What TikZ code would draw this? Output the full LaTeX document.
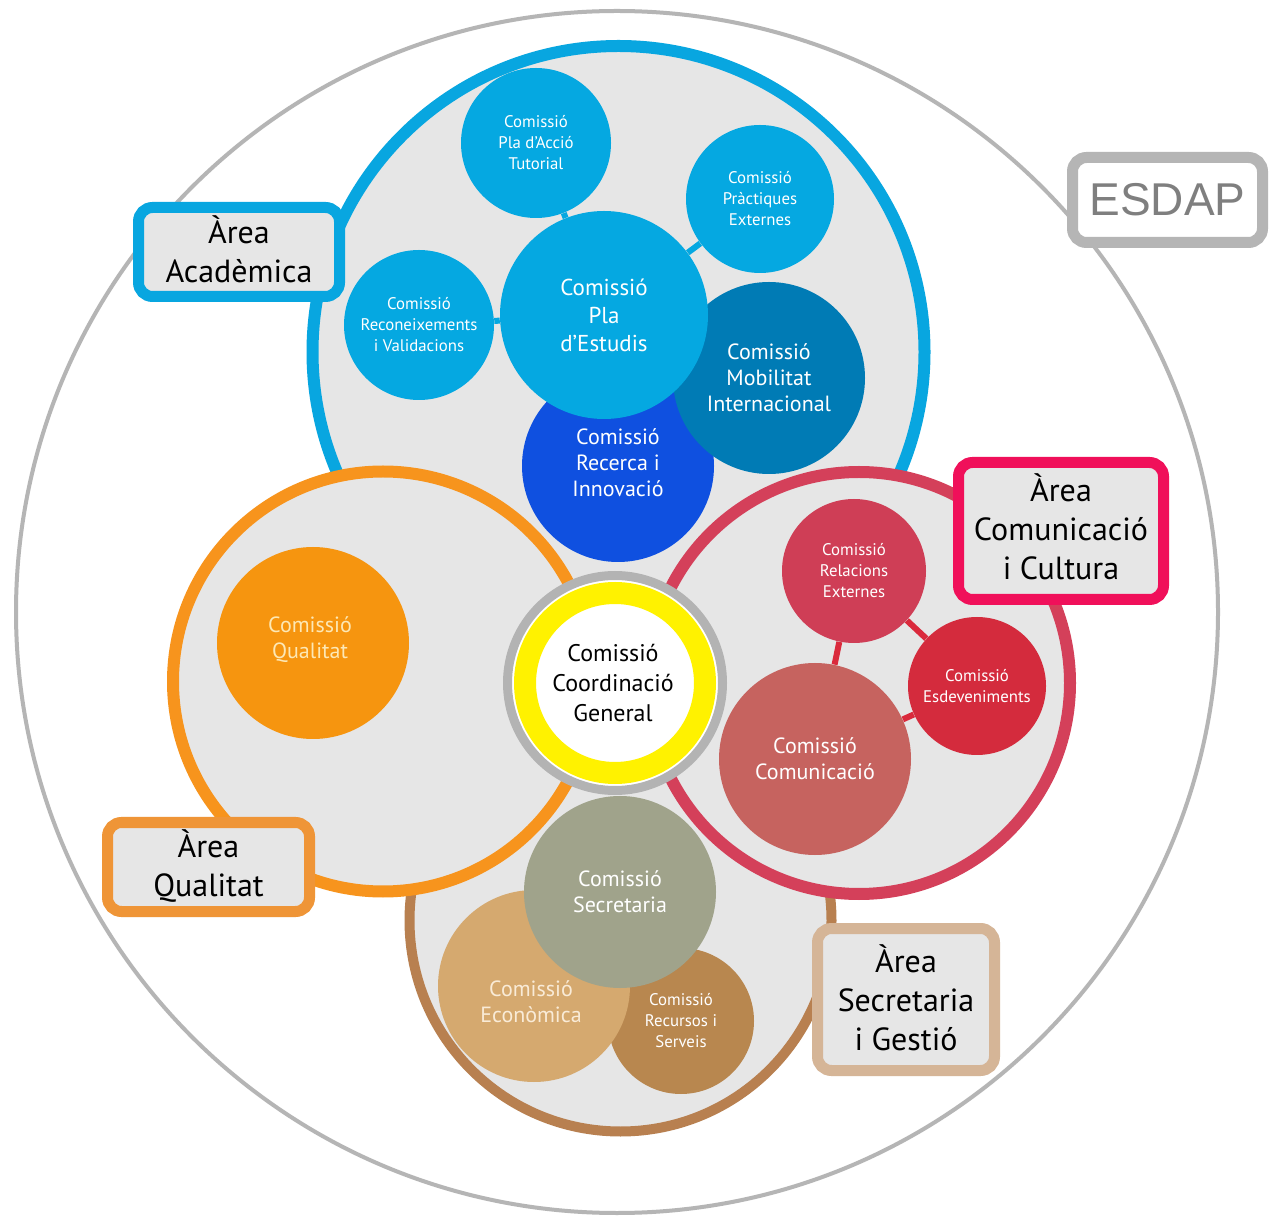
\documentclass[tikz,border=0pt]{standalone}
\usepackage{fontspec}
\setmainfont{PT Sans}
\newfontfamily\esdapfont{Liberation Sans}
\definecolor{couter}{HTML}{B5B5B5}
\definecolor{cfill}{HTML}{E6E6E6}
\definecolor{cblueA}{HTML}{08A6E0}
\definecolor{cbluec}{HTML}{05A8E1}
\definecolor{cmob}{HTML}{007BB5}
\definecolor{crec}{HTML}{0F50E0}
\definecolor{corangeA}{HTML}{F7941D}
\definecolor{cqual}{HTML}{F6950F}
\definecolor{cqualt}{HTML}{FDE8B5}
\definecolor{cqbox}{HTML}{EF9537}
\definecolor{credA}{HTML}{D4405A}
\definecolor{crel}{HTML}{CF3E56}
\definecolor{cesd}{HTML}{D42B3D}
\definecolor{clink}{HTML}{DA2A3C}
\definecolor{ccom}{HTML}{C6635F}
\definecolor{ccombox}{HTML}{F0105A}
\definecolor{cbrownA}{HTML}{B88050}
\definecolor{csec}{HTML}{A0A38B}
\definecolor{cecon}{HTML}{D5A96F}
\definecolor{cecont}{HTML}{F9EBD7}
\definecolor{crecu}{HTML}{B8874F}
\definecolor{csecbox}{HTML}{D5B597}
\definecolor{cyellow}{HTML}{FFF200}
\definecolor{cgring}{HTML}{B3B3B3}
\definecolor{cesdapt}{HTML}{7F7F7F}
\begin{document}
\begin{tikzpicture}[x=0.5pt,y=-0.5pt,
  area/.style={circle, draw, fill=cfill, inner sep=0pt, line width=6pt},
  comm/.style={circle, inner sep=0pt, text=white, align=center},
  abox/.style={draw, rounded corners=7pt, fill=cfill, line width=5.5pt, inner sep=0pt},
  atext/.style={align=center, font=\fontsize{16}{19.5}\selectfont, text=black, inner sep=0pt},
  big/.style={font=\fontsize{11}{13}\selectfont},
  small/.style={font=\fontsize{8.4}{10.5}\selectfont},
  link/.style={line width=3pt}]
\useasboundingbox (0,0) rectangle (1269,1218);
\fill[white] (0,0) rectangle (1269,1218);

% outer circle and ESDAP
\node[circle, draw=couter, line width=2pt, minimum size=601pt, inner sep=0pt] (outer) at (617,612) {};
\node[draw=couter, fill=white, rounded corners=7pt, line width=5.5pt, minimum width=95pt,
  minimum height=42.5pt, inner sep=0pt, text=cesdapt, font=\esdapfont\fontsize{23}{23}\selectfont] (esdap) at (1167.5,200) {ESDAP};

% area circles
\node[area, draw=cblueA, minimum size=306pt] (acad) at (618.5,352) {};
\node[area, draw=cbrownA, line width=5pt, minimum size=211pt] (secr) at (620.5,920.5) {};
\node[area, draw=corangeA, minimum size=210pt] (qual) at (383,681.5) {};
\node[area, draw=credA, minimum size=211pt] (comu) at (859,683) {};

% area boxes
\node[abox, draw=cblueA, minimum width=100.5pt, minimum height=44.5pt] (acadbox) at (239,252) {};
\node[atext] (acadtext) at (239,249) {Àrea\\Acadèmica};
\node[abox, draw=cqbox, minimum width=101pt, minimum height=44.5pt] (qualbox) at (208.5,867) {};
\node[atext] (qualtext) at (208.5,866.5) {Àrea\\Qualitat};
\node[abox, draw=ccombox, minimum width=102.5pt, minimum height=68.5pt] (comubox) at (1061,531) {};
\node[atext] (comutext) at (1061,527) {Àrea\\Comunicació\\i Cultura};
\node[abox, draw=csecbox, minimum width=88.5pt, minimum height=71pt] (secrbox) at (906,999.5) {};
\node[atext] (secrtext) at (906,997.5) {Àrea\\Secretaria\\i Gestió};

% academic commissions
\node[comm, fill=cbluec, minimum size=75pt, small] (recon) at (419,325) {Comissió\\Reconeixements\\i Validacions};
\node[comm, fill=cbluec, minimum size=75pt, small] (tut) at (536,143) {Comissió\\Pla d’Acció\\Tutorial};
\node[comm, fill=cbluec, minimum size=74pt, small] (prac) at (760,199) {Comissió\\Pràctiques\\Externes};
\node[comm, fill=crec, minimum size=96pt] (rec) at (618,466) {};
\node[align=center, text=white, big] (rect) at (618,462.5) {Comissió\\Recerca i\\Innovació};
\node[comm, fill=cmob, minimum size=96pt, big] (mob) at (769,378) {Comissió\\Mobilitat\\Internacional};
\node[comm, fill=cbluec, minimum size=104pt, font=\fontsize{11.5}{14}\selectfont] (pla) at (604,315) {Comissió\\Pla\\d’Estudis};
\draw[link, draw=cbluec] (pla) -- (tut);
\draw[link, draw=cbluec] (pla) -- (prac);
\draw[link, draw=cbluec] (pla) -- (recon);

% communication commissions
\node[comm, fill=crel, minimum size=72pt, small] (rel) at (854,571) {Comissió\\Relacions\\Externes};
\node[comm, fill=cesd, minimum size=69pt, small] (esd) at (977,686) {Comissió\\Esdeveniments};
\node[comm, fill=ccom, minimum size=96pt, big] (com) at (815,759) {Comissió\\Comunicació};
\draw[link, draw=clink] (rel) -- (esd);
\draw[link, draw=clink] (rel) -- (com);
\draw[link, draw=clink] (com) -- (esd);

% secretary commissions
\node[comm, fill=crecu, minimum size=73pt, small] (recu) at (681,1021) {Comissió\\Recursos i\\Serveis};
\node[comm, fill=cecon, minimum size=96pt] (econ) at (534,986) {};
\node[align=center, text=cecont, big] (econt) at (531,1002) {Comissió\\Econòmica};
\node[comm, fill=csec, minimum size=96pt, big] (sec) at (620,892) {Comissió\\Secretaria};

% quality commission
\node[comm, fill=cqual, minimum size=96pt] (qualc) at (313,643) {};
\node[align=center, big, text=cqualt] (qualct) at (310,639.5) {Comissió\\Qualitat};

% coordination
\node[circle, draw=cgring, fill=white, line width=4.5pt, minimum size=107.5pt, inner sep=0pt] (coord) at (615,683) {};
\node[circle, draw=cyellow, line width=11pt, minimum size=90pt, inner sep=0pt] (coordring) at (coord.center) {};
\node[align=center, font=\fontsize{12}{15}\selectfont, text=black] (coordt) at (613,683) {Comissió\\Coordinació\\General};
\end{tikzpicture}
\end{document}
